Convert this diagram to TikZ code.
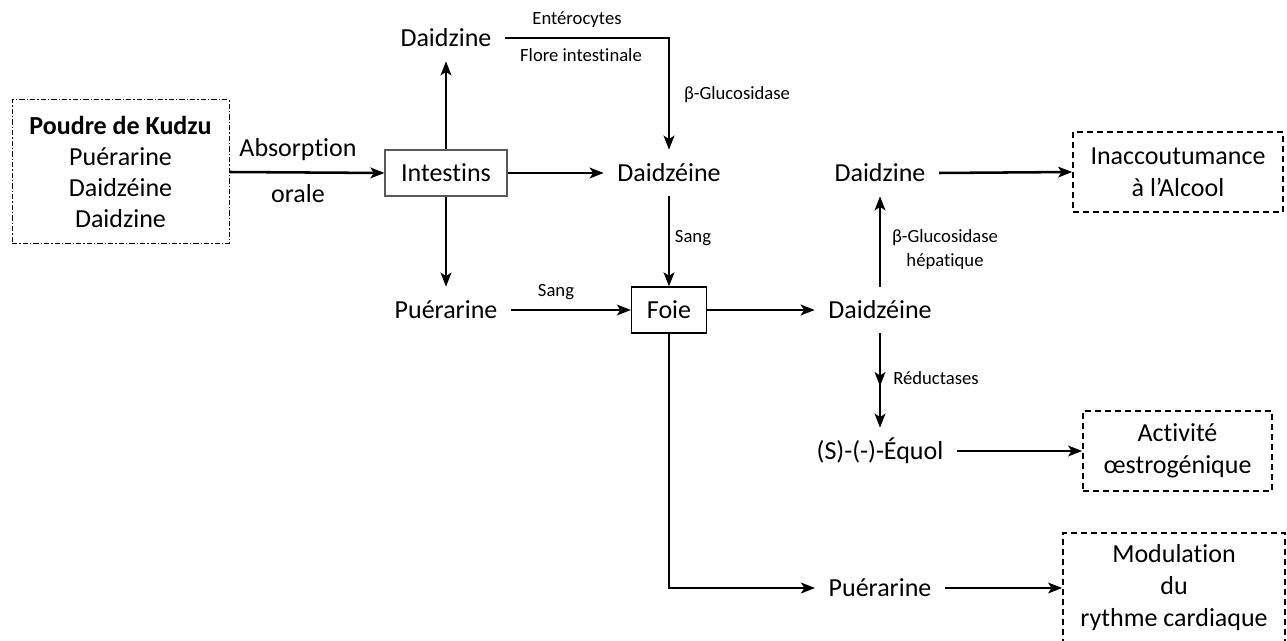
\documentclass[tikz,border=0pt]{standalone}
\usepackage{fontspec}
\setmainfont{Carlito}[Ligatures=NoCommon]
\usetikzlibrary{arrows.meta,decorations.markings}
\begin{document}
\begin{tikzpicture}[x=0.75pt,y=-0.75pt,
  every node/.style={font=\fontsize{19.5}{23.25}\selectfont},
  txt/.style={inner xsep=10pt, inner ysep=0pt, minimum height=34.5pt},
  lbl/.style={font=\fontsize{14}{18}\selectfont, inner sep=0pt, align=center},
  box/.style={draw, line width=0.8pt, inner sep=0pt, minimum height=34.5pt},
  dbox/.style={draw, line width=1.2pt, dash pattern=on 4.5pt off 3pt, inner sep=0pt, align=center, font=\fontsize{19.5}{24}\selectfont},
  tip/.style={-{Stealth[length=10.5pt,width=8pt,inset=2.5pt]}},
  arr/.style={line width=1.9pt, tip},
  ln/.style={line width=1.9pt}
]
\useasboundingbox (0,0) rectangle (1287,641);
% source
\node[draw, line width=0.75pt, dash pattern=on 4pt off 1.5pt on 1pt off 1.5pt, minimum width=162.75pt, minimum height=108pt, align=center, inner sep=0pt] (kudzu) at (120.5,172)
  {\textbf{Poudre de Kudzu}\\Puérarine\\Daidzéine\\Daidzine};
\node[box, draw=black!65, minimum width=91.5pt] (intest) at (446,173) {Intestins};
\node[txt] (dzA) at (446,38) {Daidzine};
\node[txt] (dzB) at (669,173) {Daidzéine};
\node[txt] (puA) at (446,310) {Puérarine};
\node[box, minimum width=56.25pt] (foie) at (669,310) {Foie};
\node[txt] (dzC) at (880,310) {Daidzéine};
\node[txt] (dzD) at (880,173) {Daidzine};
\node[txt] (eq) at (880,451) {(S)-(-)-Équol};
\node[txt] (puB) at (880,588) {Puérarine};
\node[dbox, minimum width=157.5pt, minimum height=60pt] (inac) at (1178,172) {Inaccoutumance\\à l’Alcool};
\node[dbox, minimum width=141.75pt, minimum height=60pt] (act) at (1177.5,451) {Activité\\œstrogénique};
\node[dbox, minimum width=166.5pt, minimum height=82.5pt] (mod) at (1174,588) {Modulation\\du\\rythme cardiaque};
% labels
\node (absl) at (298,150) {Absorption};
\node (orl) at (298,194) {orale};
\node[lbl] (ent) at (577,20) {Entérocytes};
\node[lbl] (flo) at (581,55) {Flore intestinale};
\node[lbl] (glu) at (737,95) {β-Glucosidase};
\node[lbl] (sang1) at (693,238) {Sang};
\node[lbl] (sang2) at (556,292) {Sang};
\node[lbl] (gluh) at (945,250) {β-Glucosidase\\hépatique};
\node[lbl, anchor=west] (red) at (893,378) {Réductases};
% connectors
\draw[arr] (kudzu.east) -- (intest.west);
\draw[arr] (intest.north) -- (dzA.south);
\draw[arr] (intest.east) -- (dzB.west);
\draw[arr] (intest.south) -- (puA.north);
\draw[arr] (dzA.east) -| (dzB.north);
\draw[arr] (dzB.south) -- (foie.north);
\draw[arr] (puA.east) -- (foie.west);
\draw[arr] (foie.east) -- (dzC.west);
\draw[arr] (dzC.north) -- (dzD.south);
\draw[arr] (dzD.east) -- (inac.west);
\draw[arr, postaction={decorate, decoration={markings, mark=at position 0.56 with {\arrow[line width=1.9pt]{Stealth[length=10.5pt,width=8pt,inset=2.5pt]}}}}] (dzC.south) -- (eq.north);
\draw[arr] (eq.east) -- (act.west);
\draw[arr] (foie.south) |- (puB.west);
\draw[arr] (puB.east) -- (mod.west);
\end{tikzpicture}
\end{document}
